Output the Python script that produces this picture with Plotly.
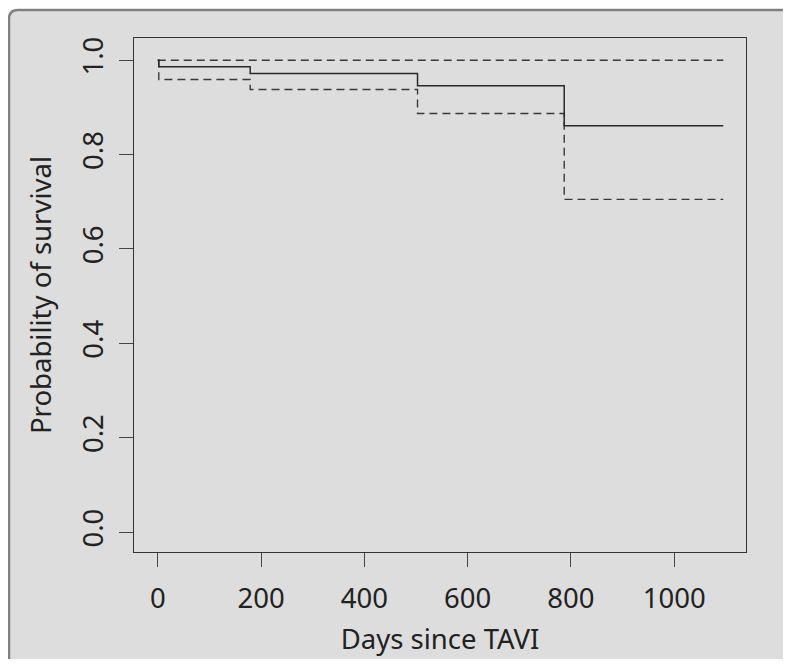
import plotly.graph_objects as go

# Data (Kaplan-Meier estimate with 95% CI)
days = [0, 2, 179, 503, 787, 1095]
survival = [1.0, 0.986, 0.972, 0.946, 0.861, 0.861]
lower_ci = [1.0, 0.959, 0.938, 0.887, 0.705, 0.705]
upper_ci = [1.0, 1.0, 1.0, 1.0, 1.0, 1.0]

x_ticks = [0, 200, 400, 600, 800, 1000]
y_ticks = [0.0, 0.2, 0.4, 0.6, 0.8, 1.0]
y_tick_labels = ["0.0", "0.2", "0.4", "0.6", "0.8", "1.0"]

OFF = 8  # page body margin
W, H = 791 - OFF, 669 - 2 * OFF - 2
ML, MT = 134 - OFF, 38 - OFF
MR = W - (746 - OFF)
MB = H - (552 - OFF)
PW, PH = W - ML - MR, H - MT - MB

FONT = "Noto Sans"
FS = 27.5
CARD = "#dcdddc"
INK = "#222222"

def px_to_paper(x, y):
    # x, y in window pixels
    x -= OFF
    y -= OFF
    return (x - ML) / PW, (H - MB - y) / PH

fig = go.Figure()

fig.add_trace(go.Scatter(x=days, y=upper_ci, mode="lines", line_shape="hv",
                         line=dict(color="#3a3a3a", width=1.4, dash="8px,5px"),
                         showlegend=False, hoverinfo="skip"))
fig.add_trace(go.Scatter(x=days, y=lower_ci, mode="lines", line_shape="hv",
                         line=dict(color="#3a3a3a", width=1.4, dash="8px,5px"),
                         showlegend=False, hoverinfo="skip"))
fig.add_trace(go.Scatter(x=days, y=survival, mode="lines", line_shape="hv",
                         line=dict(color="#2a2a2a", width=1.5),
                         showlegend=False, hoverinfo="skip"))

# rounded card background (extends past right/bottom edge)
r = 9
x0, y0, x1, y1 = 9, 10, 795, 680
def P(x, y):
    a, b = px_to_paper(x, y)
    return f"{a:.5f},{b:.5f}"
fill_path = (f"M {P(x0, y1)} L {P(x0, y0 + r)} Q {P(x0, y0)} {P(x0 + r, y0)} "
             f"L {P(x1, y0)} L {P(x1, y1)} Z")
edge_path = (f"M {P(x0, y1)} L {P(x0, y0 + r)} Q {P(x0, y0)} {P(x0 + r, y0)} "
             f"L {P(x1, y0)}")
fig.add_shape(type="path", path=fill_path, xref="paper", yref="paper",
              fillcolor=CARD, line=dict(width=0), layer="below")
fig.add_shape(type="path", path=edge_path, xref="paper", yref="paper",
              fillcolor="rgba(0,0,0,0)", line=dict(color="#808080", width=2.5), layer="below")

axis_common = dict(showline=True, mirror=True, linecolor="#333333", linewidth=1.4,
                   ticks="outside", ticklen=14, tickwidth=1.2, tickcolor="#444444",
                   showgrid=False, zeroline=False,
                   tickfont=dict(family=FONT, size=FS, color=INK))

fig.update_xaxes(range=[-46, 1139], tickvals=x_ticks, ticklabelstandoff=8,
                 title=dict(text="Days since TAVI", font=dict(family=FONT, size=FS, color=INK),
                            standoff=14),
                 **axis_common)
fig.update_yaxes(range=[-0.042, 1.047], tickvals=y_ticks, ticktext=y_tick_labels,
                 tickangle=-90, ticklabelstandoff=5,
                 title=dict(text="Probability of survival", font=dict(family=FONT, size=FS, color=INK),
                            standoff=14),
                 **axis_common)

fig.update_layout(width=W, height=H, autosize=False,
                  margin=dict(l=ML, r=MR, t=MT, b=MB, autoexpand=False),
                  paper_bgcolor="white", plot_bgcolor="rgba(0,0,0,0)",
                  font=dict(family=FONT))

fig.write_html("out.html")
